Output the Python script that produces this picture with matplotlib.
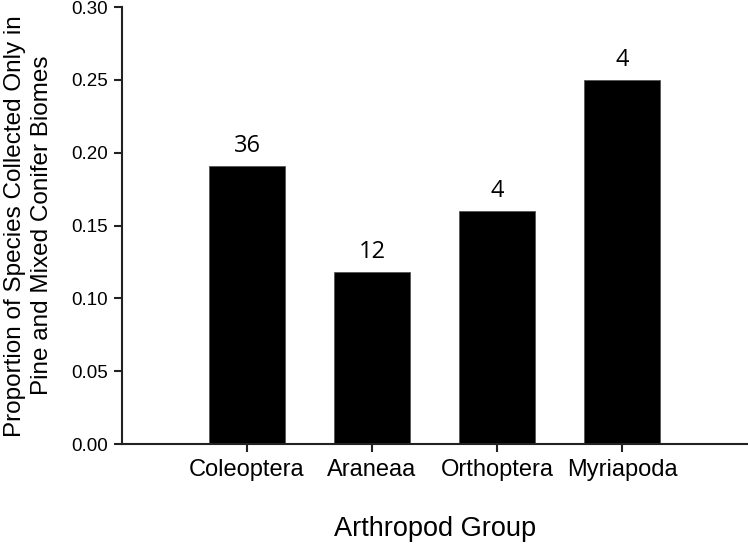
import matplotlib.pyplot as plt

# Data
groups = ['Coleoptera', 'Araneaa', 'Orthoptera', 'Myriapoda']
proportions = [0.191, 0.118, 0.160, 0.250]
n_species = [36, 12, 4, 4]

fig = plt.figure(figsize=(7.48, 5.45), dpi=100)
ax = fig.add_axes([0.163, 0.185, 0.836, 0.802])

x = range(len(groups))
bars = ax.bar(x, proportions, width=0.61, color='black', edgecolor='#555555', linewidth=0.6)

# counts above bars
for b, n in zip(bars, n_species):
    ax.text(b.get_x() + b.get_width() / 2, b.get_height() + 0.0095, str(n),
            ha='center', va='baseline', fontsize=17, family='Open Sans')

ax.set_xlim(-1, 4)
ax.set_ylim(0, 0.30)
ax.set_xticks(list(x))
ax.set_xticklabels(groups, fontsize=17, family='Liberation Sans')
ax.set_yticks([0, 0.05, 0.10, 0.15, 0.20, 0.25, 0.30])
ax.set_yticklabels(['0.00', '0.05', '0.10', '0.15', '0.20', '0.25', '0.30'],
                   fontsize=13.5, family='Liberation Sans')

for s in ['top', 'right']:
    ax.spines[s].set_visible(False)
for s in ['left', 'bottom']:
    ax.spines[s].set_linewidth(1.5)
    ax.spines[s].set_color('#222222')
ax.tick_params(direction='out', length=6, width=1.5, color='#222222', pad=4)
ax.tick_params(axis='x', pad=5)

ax.set_xlabel('Arthropod Group', fontsize=19.5, family='Liberation Sans')
ax.xaxis.set_label_coords(0.5, -0.165)
ax.set_ylabel('Proportion of Species Collected Only in\nPine and Mixed Conifer Biomes',
              fontsize=17.5, family='Liberation Sans', linespacing=1.3)
ax.yaxis.set_label_coords(-0.11, 0.5)

fig.savefig('out.png', dpi=100)
